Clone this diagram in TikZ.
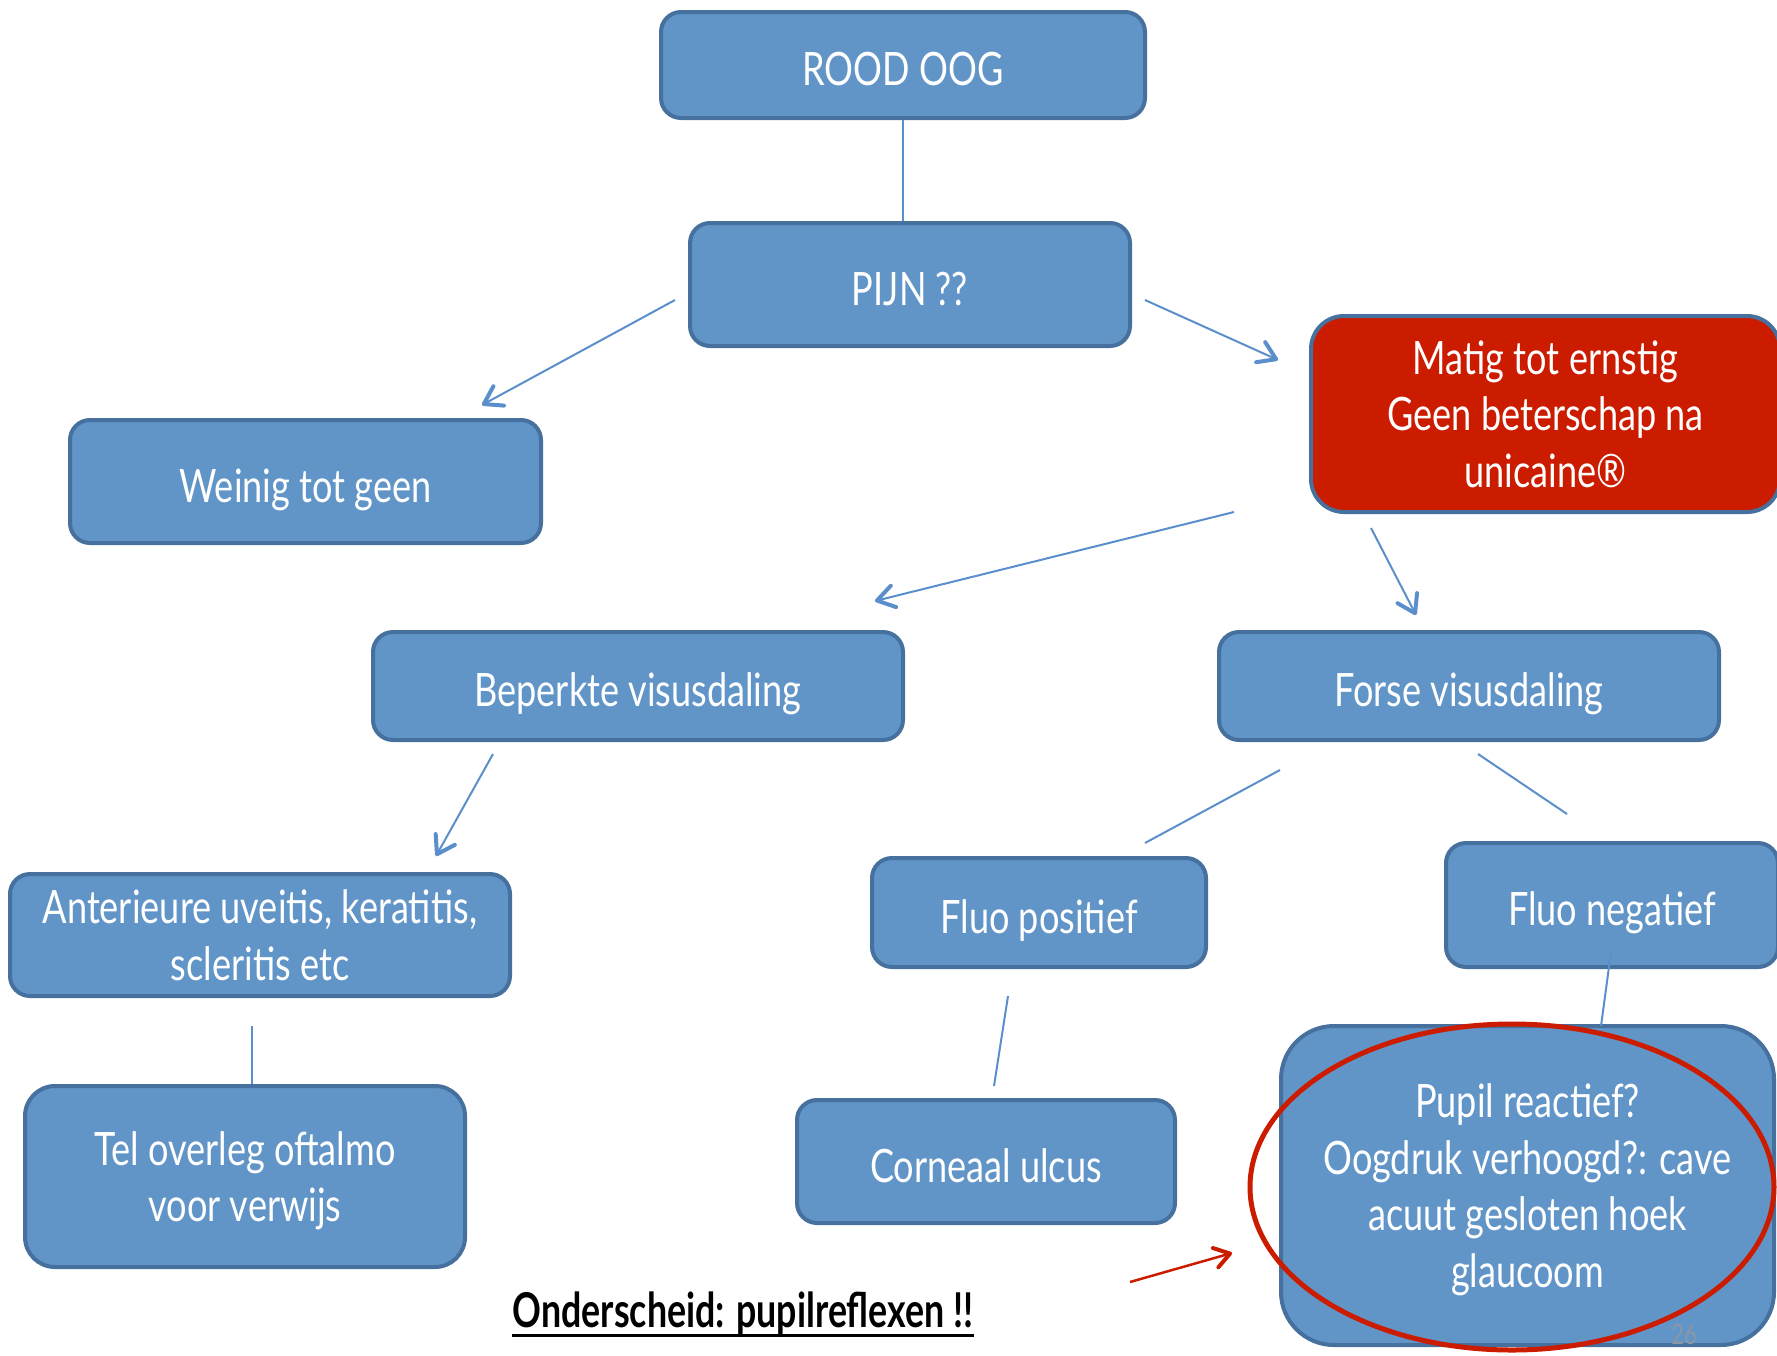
\documentclass[tikz,border=0pt]{standalone}
\usepackage{fontspec}
\setmainfont[FakeStretch=0.785]{Lato}
\newfontfamily\notefont[FakeStretch=0.745]{Lato}
\usetikzlibrary{arrows.meta,calc}
\definecolor{boxfill}{RGB}{97,149,200}
\definecolor{boxline}{RGB}{70,112,158}
\definecolor{redfill}{RGB}{204,28,0}
\definecolor{conncol}{RGB}{91,143,204}
\definecolor{pagenum}{RGB}{140,150,165}
\newcommand{\boxfont}{\fontsize{46}{56.5}\selectfont}
\begin{document}
\begin{tikzpicture}[x=1pt,y=-1pt,
  box/.style={draw=boxline, line width=4pt, fill=boxfill, text=white,
    align=center, inner sep=0pt, font=\boxfont, rounded corners=20pt, text depth=0pt},
  oneline/.style={text height=41pt, text depth=0pt},
  redbox/.style={box, fill=redfill},
  conn/.style={draw=conncol, line width=2pt},
  arr/.style={conn, -{Straight Barb[length=17pt,width=22pt,line width=4pt,round]}},
  redarr/.style={draw=redfill, line width=2.5pt, -{Straight Barb[length=15pt,width=20pt,line width=4pt,round]}}
]
\useasboundingbox (0,0) rectangle (1777,1355);

% boxes
\node[box, oneline, minimum width=484pt, minimum height=106pt] (rood) at (903,65) {ROOD OOG};
\node[box, oneline, minimum width=440pt, minimum height=123pt] (pijn) at (910,284.5) {PIJN ??};
\node[box, oneline, minimum width=471pt, minimum height=123pt] (weinig) at (305.5,481.5) {Weinig tot geen};
\node[redbox, minimum width=469pt, minimum height=196pt, rounded corners=33pt] (matig) at (1545.5,414)
  {Matig tot ernstig\\Geen beterschap na\\unicaine®};
\node[box, oneline, minimum width=530pt, minimum height=108pt] (beperkt) at (638,686) {Beperkte visusdaling};
\node[box, oneline, minimum width=500pt, minimum height=108pt] (forse) at (1469,686) {Forse visusdaling};
\node[box, minimum width=500pt, minimum height=122pt] (anter) at (260,935)
  {Anterieure uveitis, keratitis,\\scleritis etc};
\node[box, oneline, minimum width=334pt, minimum height=109pt] (fpos) at (1039,912.5) {Fluo positief};
\node[box, oneline, minimum width=332pt, minimum height=124pt] (fneg) at (1612,905) {Fluo negatief};
\node[box, minimum width=440pt, minimum height=181pt, rounded corners=30pt] (tel) at (245,1176.5)
  {Tel overleg oftalmo\\voor verwijs};
\node[box, oneline, minimum width=378pt, minimum height=123pt] (corn) at (986,1161.5) {Corneaal ulcus};
\node[box, minimum width=493pt, minimum height=319pt, rounded corners=53pt] (pupil) at (1527.5,1185.5)
  {Pupil reactief?\\Oogdruk verhoogd?: cave\\acuut gesloten hoek\\glaucoom};

% connector end points
\coordinate (p1) at (675,300);   \coordinate (w1) at (482,405);
\coordinate (p2) at (1145,300);  \coordinate (m1) at (1278,360);
\coordinate (m2) at (1234,512);  \coordinate (b1) at (875,601);
\coordinate (m3) at (1371,528);  \coordinate (f1) at (1416,615);
\coordinate (b2) at (493,754);   \coordinate (a1) at (436,856);
\coordinate (f2) at (1280,770);  \coordinate (fp1) at (1145,843);
\coordinate (f3) at (1478,754);  \coordinate (fn1) at (1567,814);
\coordinate (a2) at (252,1026);
\coordinate (fp2) at (1008,996); \coordinate (c1) at (994,1086);
\coordinate (fn2) at (1611,952); \coordinate (pu1) at (1601,1026);
\coordinate (r1) at (1130,1282); \coordinate (r2) at (1232,1253);

% connectors
\draw[conn] (rood.south) -- (rood.south |- pijn.north);
\draw[arr] (p1) -- (w1);
\draw[arr] (p2) -- (m1);
\draw[arr] (m2) -- (b1);
\draw[arr] (m3) -- (f1);
\draw[arr] (b2) -- (a1);
\draw[conn] (f2) -- (fp1);
\draw[conn] (f3) -- (fn1);
\draw[conn] (a2) -- (a2 |- tel.north);
\draw[conn] (fp2) -- (c1);
\draw[conn] (fn2) -- (pu1);

% page number
\node[text=pagenum, font=\fontsize{28}{30}\selectfont, inner sep=0pt] (pg) at (1684,1334) {26};

% highlight
\draw[draw=redfill, line width=5pt] (1512,1187) ellipse [x radius=262, y radius=163];
\draw[redarr] (r1) -- (r2);

% note
\node[font=\notefont\fontsize{48}{50}\selectfont\bfseries, text=black, inner sep=0pt, anchor=base] (ond) at (743,1327)
  {Onderscheid: pupilreflexen !!};
\draw[line width=3pt] ([yshift=-8pt]ond.base west) -- ([yshift=-8pt]ond.base east);
\end{tikzpicture}
\end{document}
